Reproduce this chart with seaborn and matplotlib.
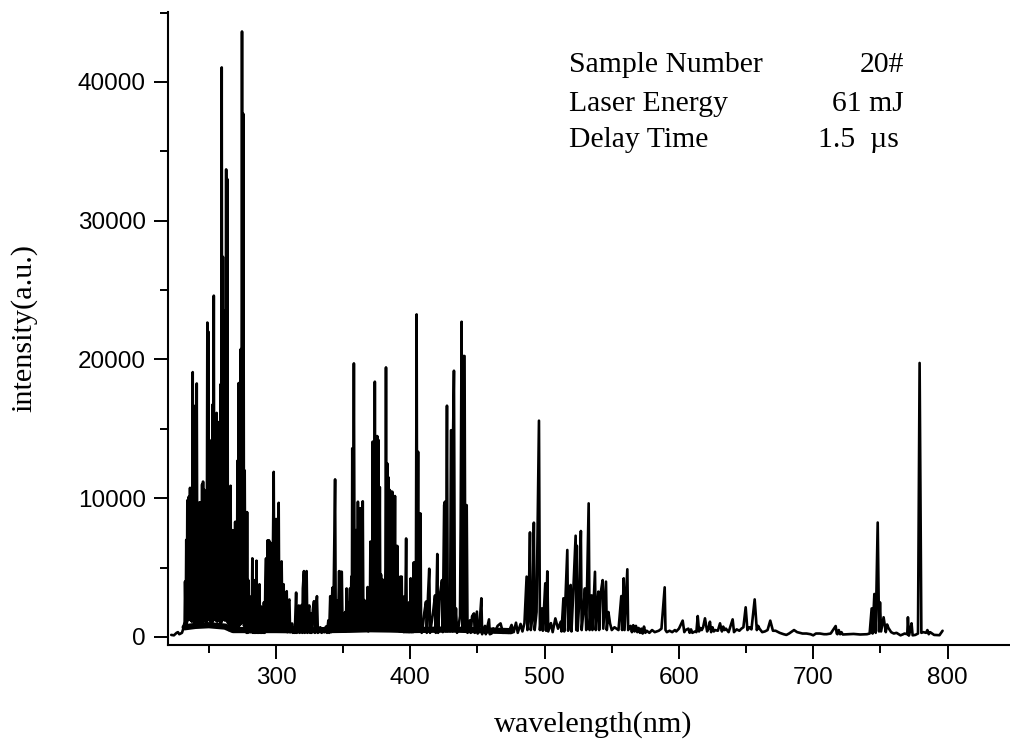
# LIBS spectrum, values
import numpy as np
import matplotlib
matplotlib.use('Agg')
import matplotlib.pyplot as plt
from matplotlib.ticker import MultipleLocator
import seaborn as sns

# 222 - 265 nm
wl_a = [222,224,226,227,228,230,231,232,232.3,232.8,233.2,233.6,234,234.4,235,235.4,236,236.5,237,237.4,
        238,238.5,239,239.5,240,240.5,241,241.5,242,242.5,243,243.5,244,244.5,245,245.4,245.7,246.2,246.7,247.2,
        248,248.4,248.9,249.3,249.7,250.2,250.8,251.2,252,252.4,252.8,253.2,253.7,254.1,254.6,255,255.8,256.2,256.7,257.2,
        257.8,258.2,258.6,259.1,259.6,260,260.5,261,261.4,261.8,262.2,262.5,262.9,263.3,263.8,264.2,264.6,265]
int_a = [150,120,300,350,200,300,600,1100,4000,900,7000,1000,9850,1200,10100,1300,10750,1200,9600,1100,
         19090,1400,16660,1000,15500,900,18270,800,9500,900,9700,1000,9700,900,11000,1000,11200,1100,10600,1200,
         10000,1000,22660,1200,22000,1300,12700,1100,14200,1000,16750,1200,24600,1300,14000,1200,16150,1100,15500,1300,
         11000,1100,18200,1000,41050,1200,27400,1300,23500,1200,23500,1200,33700,1300,33000,1000,6000,500]

# 265 - 292 nm
wl_b1 = [265.5,266.2,266.6,267,267.4,267.8,268.2,268.8,269.2,269.6,270,270.5,270.9,271.3,271.7,272.2,272.6,273,273.4,273.8,
         274.2,274.7,275.2,275.7,276.2,276.7,277.2,277.7,278.1,278.5,278.9,279.4,279.9,280.4,280.9,281.4,281.9,282.4,282.9,283.4,
         283.9,284.4,284.9,285.5,286,286.6,287.1,287.7,288.2,288.8,289.3,289.9,290.4,291,291.6]
int_b1 = [800,10900,500,7700,500,7700,500,5000,500,8300,500,8300,500,12700,700,18300,800,18300,900,20750,
          1000,43640,1200,37700,800,12000,400,9000,300,9000,300,4100,350,2900,350,2900,350,5670,300,4100,
          300,4100,300,5500,300,3200,300,3800,300,2200,300,1800,300,2500,300]

# 292 - 350 nm
wl_b2 = [292.1,292.6,293.2,293.8,294.3,294.8,295.3,295.8,296.3,296.8,297.3,297.8,298.3,298.8,299.3,299.8,300.3,300.6,301,
         301.5,302,302.5,303.2,303.7,304.2,304.8,305.7,306.3,307,308,308.5,309,310,310.5,311,312,312.6,313.5,314,
         315,315.5,316,317,317.6,318.2,319,319.6,320,320.8,321.4,322,322.8,323.4,324,324.8,325.4,325.8,326.4,327.5,
         328.3,329,329.6,330.5,331.2,332,333,334,335,336,337.2,338,339,339.6,340.4,341,342,342.6,344,344.5,
         345.7,346.2,347,347.6,348.2,349,349.6]
int_b2 = [4000,5670,400,6970,400,6970,500,6800,500,6500,500,7000,11900,600,8500,600,8500,600,8500,
          500,9670,500,5000,400,5450,400,3800,400,2800,3300,350,2500,2700,350,800,970,300,600,300,
          3200,300,1800,2270,300,1500,2300,300,3500,4750,300,3800,4750,300,1900,2270,300,1700,300,2000,
          2580,300,1800,2940,300,600,700,300,500,350,750,300,1200,300,2940,350,3550,400,11360,400,
          2600,400,4750,400,4700,4700,400]

# 350 - 408 nm
wl_c1 = [350.5,351.5,352,352.6,353.2,353.9,354.5,355.1,355.6,356.1,356.5,356.8,357.3,358,358.6,359.1,359.6,360.1,360.5,361,
         361.5,362,362.4,362.9,363.3,363.8,364.2,364.6,365.1,365.8,366.3,367,367.5,368.2,368.7,369.3,369.8,370.3,370.7,371.2,
         371.6,372,372.5,373,373.2,373.6,374,374.5,374.9,375.4,375.8,376.3,376.8,377.3,377.7,378.2,378.7,379.3,379.8,380.4,
         380.9,381.5,381.9,382.4,382.9,383.3,383.8,384.2,384.7,385.1,385.7,386.1,386.6,387,387.6,388,388.6,389,389.5,389.9,
         390.4,390.8,391.4,391.9,392.6,393,393.6,394,394.6,395,395.6,396.1,396.9,397.4,398,398.5,399.1,399.6,400.3,400.8,
         401.5,402,402.6,403,403.6,404.1,404.7,405.2,405.8,406.2,406.7,407.1,407.6,408]
int_c1 = [400,1800,400,3500,500,2500,450,3500,500,4350,600,13600,600,19720,600,7700,600,7700,600,9750,
          500,9270,500,9270,500,8000,500,9780,500,2660,450,1800,450,3600,400,3000,450,6870,500,6870,
          500,14080,600,14080,600,18400,600,14480,600,14480,600,14200,600,10800,500,4500,500,4150,500,3500,
          500,5000,19430,600,12500,500,11500,500,10600,500,10470,500,10470,500,8000,500,10160,500,6560,450,
          6560,450,3500,400,4350,400,4350,400,2900,350,2900,350,7100,350,2000,350,2500,350,4230,350,
          3000,350,5380,400,5380,400,23250,500,13350,500,8900,500,8900,800]

# 408 - 460 nm
wl_c2 = [408.5,409,410.5,411.7,412.3,413.2,414.1,414.7,415.5,417,418.4,419,420.1,420.7,422,423.6,424.2,425.2,425.8,426.5,
         427.3,427.9,429,429.6,430.3,430.8,431.4,431.9,432.5,433.2,434,434.8,436,437,437.5,438.2,438.8,439.6,440.4,441,
         441.5,442,442.6,444.4,445,446,447.4,448,449.6,450.2,451.5,452.9,453.5,455.6,456.2,458.6,459.2]
int_c2 = [300,500,1800,2550,300,3000,4920,300,800,1800,3000,300,5980,300,3000,4100,350,9500,9750,400,
          16670,400,2060,400,14900,14900,400,14900,19190,500,2060,300,800,1500,8000,22720,500,20250,20250,500,
          9500,9500,300,1200,300,1500,1700,300,1830,250,800,2790,200,800,200,1270,200]

# 460 - 600 nm
wl_d = [460.5,461.8,463,465,467.2,469,471.7,473,475.4,477,478.7,480,482.1,483.5,485,486.6,487.2,488,489.1,489.7,
        491,492,492.6,494,495.8,496.5,498,498.7,500.5,501.1,502,502.7,504.7,506,508,510,512,512.6,514,514.6,
        516.9,517.5,518.5,519.4,520,521,523.1,523.6,524,524.6,526,527,527.6,529,530,531,532.8,533.5,535,535.6,
        537.5,538.1,539,540,540.6,541.5,543.2,543.7,545.7,546.3,547.5,548.7,550,552,555,557.1,557.7,558.9,559.5,561.6,
        562.2,564,565,566,567,568,569,570,571,572,573,574,575,576,578,580,582,585,587,589.4,590,591,593,595,597,598,600]
int_d = [250,620,350,800,980,300,500,300,870,350,1030,300,940,400,1000,4350,500,1500,7540,500,
         1500,8240,500,1800,15590,500,2060,450,3870,450,4730,400,1000,350,1340,600,1100,400,2790,400,
         6270,450,2000,3750,400,2500,7300,500,6580,450,3000,7640,500,2000,3500,500,9630,500,3000,500,
         4700,500,2000,3270,500,3000,4100,600,3990,500,1800,985,500,700,500,2950,500,4230,500,4880,
         500,800,350,850,400,800,350,650,300,600,250,750,300,450,300,500,350,450,600,3580,500,350,450,350,500,400,600]

# 600 - 797 nm
wl_e = [602.8,604,605,607,608,609,610,612,613,614,615,616,617,618,619.4,621,622,623.1,624,625,626,627,629,630.6,632,633,634,635,637,640,641,
        643,645,646.5,648,649.7,651,652.5,654,656.4,658,659,660,662,664,666,668,670,672,675,678,680,682,685.7,688,690,692,695,698,700,
        702,705,708,710,713,716.7,717.5,718,719,720,721,722,726,730,735,740,742,743.5,744.2,745.5,746.5,748,749,749.7,750.5,752.4,
        754,755,756,758,760,762,765,767,768,770,770.5,771.2,772.5,773.2,774,776,778,779.2,780.5,782,784,785,786,787,790,794,796.3]
int_e = [1180,350,500,600,300,550,300,400,350,1510,400,650,500,700,1345,400,600,1100,350,700,400,500,450,985,400,750,500,600,350,1270,350,
         550,450,600,700,2140,500,700,550,2710,500,800,600,350,400,500,1180,450,450,300,200,150,250,500,350,300,250,250,200,120,
         250,250,200,200,250,790,250,200,500,200,350,180,200,220,180,200,250,2060,250,3100,300,8250,400,2500,400,1420,
         350,900,650,350,250,300,120,200,250,200,1420,100,600,985,120,150,250,19750,300,350,300,500,200,350,150,130,450]

# thick floor of the dense region, 232 - 475 nm
floor_wl = [232,240,250,262,268,280,300,320,340,355,370,385,400,415,430,445,460,475]
floor_int = [700,800,850,750,500,500,500,480,500,520,560,540,500,520,540,500,460,420]

wavelength = np.concatenate([wl_a, wl_b1, wl_b2, wl_c1, wl_c2, wl_d, wl_e])
intensity = np.concatenate([int_a, int_b1, int_b2, int_c1, int_c2, int_d, int_e])

x_ticks = [300, 400, 500, 600, 700, 800]
y_ticks = [0, 10000, 20000, 30000, 40000]

sns.set_theme(style='ticks')
plt.rcParams['font.family'] = ['Liberation Sans', 'DejaVu Sans']

fig = plt.figure(figsize=(10.1, 7.42), dpi=100)
ax = fig.add_axes([168/1010, 97/742, 842/1010, 633/742])

sns.lineplot(x=wavelength, y=intensity, color='black', lw=1.9, sort=False, estimator=None, ax=ax)
sns.lineplot(x=floor_wl, y=floor_int, color='black', lw=4.5, sort=False, estimator=None, ax=ax)

ax.set_xlim(219.6, 846.5)
ax.set_ylim(-577, 45044)
ax.set_xticks(x_ticks)
ax.set_yticks(y_ticks)
ax.xaxis.set_minor_locator(MultipleLocator(50))
ax.yaxis.set_minor_locator(MultipleLocator(5000))
ax.tick_params(which='major', length=10, width=1.4, color='black', labelsize=17.5, labelcolor='black', pad=6)
ax.tick_params(which='minor', length=6, width=1.4, color='black')
sns.despine(ax=ax)
for side in ['left', 'bottom']:
    ax.spines[side].set_linewidth(1.5)
    ax.spines[side].set_color('black')

serif = ['Liberation Serif', 'DejaVu Serif']
ax.set_xlabel('wavelength(nm)', family=serif, fontsize=21.8, color='black', labelpad=15.5, x=0.505)
ax.set_ylabel('intensity(a.u.)', family=serif, fontsize=21.8, color='black', labelpad=29)

ax.text(518.2, 40720, 'Sample Number', family=serif, fontsize=21.4, color='black')
ax.text(518.2, 37900, 'Laser Energy', family=serif, fontsize=21.4, color='black')
ax.text(518.2, 35300, 'Delay Time', family=serif, fontsize=21.4, color='black')
ax.text(767.6, 40720, '20#', family=serif, fontsize=21.4, color='black', ha='right')
ax.text(767.6, 37900, '61 mJ', family=serif, fontsize=21.4, color='black', ha='right')
ax.text(703.6, 35300, '1.5  µs', family=serif, fontsize=21.4, color='black')

plt.savefig('out.png', dpi=100)
